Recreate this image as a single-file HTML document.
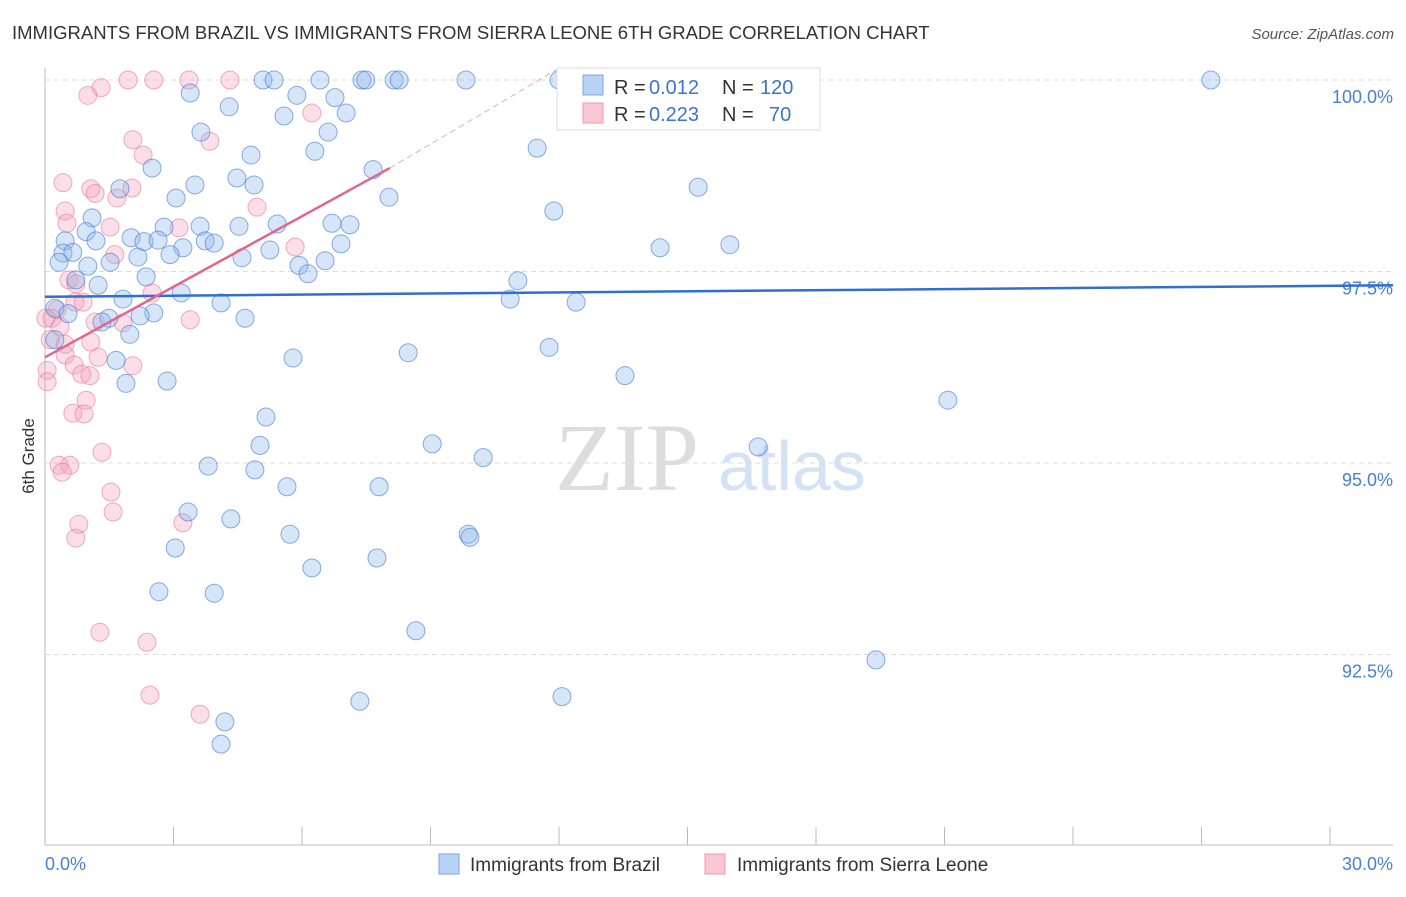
<!DOCTYPE html>
<html><head><meta charset="utf-8"><style>
body{margin:0;background:#fff;font-family:"Liberation Sans",sans-serif}
svg text{font-family:"Liberation Sans",sans-serif}
</style></head><body>
<svg id="c" width="1406" height="892">
<text x="12" y="39" font-size="18.5" fill="#333">IMMIGRANTS FROM BRAZIL VS IMMIGRANTS FROM SIERRA LEONE 6TH GRADE CORRELATION CHART</text>
<text x="1394" y="39" font-size="15" fill="#555" text-anchor="end" font-style="italic">Source: ZipAtlas.com</text>
<text x="555" y="490" font-size="96" fill="#ddd" style="font-family:'Liberation Serif',serif">ZIP</text>
<text x="718" y="490" font-size="70" fill="#d4e2f6">atlas</text>
<g id="grid"></g><g id="pts"></g><g id="trend"></g>
<text transform="translate(34,456) rotate(-90)" font-size="17" fill="#333" text-anchor="middle">6th Grade</text>
<text x="45" y="870" font-size="18" fill="#4a7fd6">0.0%</text>
<text x="1393" y="870" font-size="18" fill="#4a7fd6" text-anchor="end">30.0%</text>
<g>
<rect x="557" y="68" width="263" height="62" fill="#fff" stroke="#ddd"/>
<rect x="583" y="75" width="20" height="20" fill="#b9d1f3" stroke="#7aa6e8"/>
<rect x="583" y="103" width="20" height="20" fill="#f9c7d4" stroke="#ee9ab0"/>
<text x="614" y="94" font-size="20" fill="#333">R =</text>
<text x="649" y="94" font-size="20" fill="#3b73d1">0.012</text>
<text x="722" y="94" font-size="20" fill="#333">N =</text>
<text x="760" y="94" font-size="20" fill="#3b73d1">120</text>
<text x="614" y="121" font-size="20" fill="#333">R =</text>
<text x="649" y="121" font-size="20" fill="#3b73d1">0.223</text>
<text x="722" y="121" font-size="20" fill="#333">N =</text>
<text x="769" y="121" font-size="20" fill="#3b73d1">70</text>
</g>
<g>
<rect x="439" y="854" width="20" height="20" fill="#b9d1f3" stroke="#7aa6e8"/>
<text x="470" y="871" font-size="19" fill="#333">Immigrants from Brazil</text>
<rect x="705" y="854" width="20" height="20" fill="#f9c7d4" stroke="#ee9ab0"/>
<text x="737" y="871" font-size="19" fill="#333">Immigrants from Sierra Leone</text>
</g>
</svg>
<script>
const yTicks=[100,97.5,95,92.5];
const yTickLabels=["100.0%","97.5%","95.0%","92.5%"];
const xTicks=[0,3,6,9,12,15,18,21,24,27,30];
const brazilX=[3.39,4.30,5.09,5.35,5.88,6.42,6.77,7.03,7.40,7.49,8.15,8.27,9.83,12.0,27.22,16.27,5.58,3.64,6.61,6.30,4.81,11.49,2.50,7.66,4.48,4.88,3.50,1.75,3.06,8.03,15.25,11.88,1.10,2.78,3.62,4.53,5.42,6.70,7.12,0.96,0.47,1.19,2.01,2.31,2.64,3.74,3.95,6.91,3.22,14.36,15.99,0.42,0.65,0.33,1.52,2.17,2.92,4.60,5.25,5.93,6.54,1.00,6.14,2.36,0.72,1.24,3.18,11.04,1.82,4.11,10.86,12.40,0.23,0.54,2.54,2.22,1.49,1.33,4.67,1.98,1.66,0.23,5.79,8.48,11.77,1.89,2.85,13.54,21.08,5.16,5.02,9.04,10.23,16.65,3.81,4.90,5.65,7.80,3.34,4.34,5.72,9.88,9.92,3.04,7.75,6.23,2.66,3.95,8.66,19.40,7.35,12.07,4.20,4.11];
const brazilY=[99.83,99.65,100,100,99.80,100,99.77,99.57,100,100,100,100,100,100,100,100,99.53,99.32,99.32,99.07,99.02,99.11,98.85,98.83,98.72,98.63,98.63,98.58,98.46,98.47,98.60,98.29,98.20,98.08,98.09,98.09,98.12,98.13,98.11,98.02,97.90,97.90,97.94,97.89,97.91,97.90,97.87,97.86,97.81,97.81,97.85,97.74,97.75,97.62,97.62,97.69,97.72,97.68,97.78,97.58,97.64,97.57,97.47,97.43,97.39,97.32,97.22,97.38,97.14,97.09,97.14,97.10,97.02,96.95,96.96,96.92,96.89,96.84,96.89,96.68,96.34,96.61,96.37,96.44,96.51,96.04,96.07,96.14,95.82,95.60,95.23,95.25,95.07,95.21,94.96,94.91,94.69,94.69,94.36,94.27,94.07,94.07,94.03,93.89,93.76,93.63,93.32,93.30,92.81,92.43,91.89,91.95,91.62,91.33];
const sierraX=[1.31,1.00,1.94,2.54,3.36,4.32,6.23,2.05,2.29,3.85,0.42,1.07,1.17,2.03,1.68,4.95,0.47,0.51,1.52,3.13,5.84,1.63,0.56,0.72,0.89,2.50,0.70,0.28,3.39,0.16,0.35,1.17,1.82,0.02,0.12,0.47,1.07,0.47,1.24,2.05,0.68,0.86,1.05,0.05,0.05,0.96,0.65,0.91,1.33,0.33,0.58,0.40,1.54,1.59,0.79,0.72,3.22,1.28,2.38,2.45,3.62];
const sierraY=[99.90,99.80,100,100,100,100,99.57,99.22,99.02,99.20,98.66,98.58,98.52,98.59,98.46,98.34,98.29,98.13,98.08,98.07,97.82,97.72,97.39,97.34,97.10,97.22,97.10,97.00,96.87,96.89,96.78,96.84,96.83,96.89,96.61,96.55,96.58,96.41,96.38,96.27,96.28,96.16,96.14,96.21,96.06,95.82,95.65,95.64,95.14,94.97,94.97,94.88,94.62,94.36,94.20,94.02,94.22,92.79,92.66,91.97,91.72];
const brazilTrendX=[0,31.47], brazilTrendY=[97.17,97.32];
const sierraTrendX=[0,8.05,12.02], sierraTrendY=[96.38,98.85,100.16];

const NS="http://www.w3.org/2000/svg";
const X=v=>45+v*(1285/30);
const Y=v=>80+(100-v)*76.6;
function mk(tag,attrs,parent){const e=document.createElementNS(NS,tag);for(const k in attrs)e.setAttribute(k,attrs[k]);parent.appendChild(e);return e;}
const grid=document.getElementById('grid');
yTicks.forEach((t,i)=>{
  const l=mk('line',{x1:45,x2:1393,y1:Y(t),y2:Y(t),stroke:'#ddd','stroke-dasharray':'5,4'},grid);
  
  
  const tx=mk('text',{x:1393,y:Y(t)+23,'font-size':18,fill:'#4a7fd6','text-anchor':'end'},grid);
  tx.textContent=yTickLabels[i];
  
  
});
const ax=mk('line',{x1:45,x2:45,y1:68,y2:845,stroke:'#bbb'},grid);


const bx=mk('line',{x1:45,x2:1393,y1:845,y2:845,stroke:'#bbb'},grid);


xTicks.forEach(t=>{
  const l=mk('line',{x1:X(t),x2:X(t),y1:827,y2:845,stroke:'#bbb'},grid);
  
  
});
const pts=document.getElementById('pts');
sierraX.forEach((v,i)=>{
  const c=mk('circle',{cx:X(v),cy:Y(sierraY[i]),r:9,fill:'rgba(244,160,185,0.35)',stroke:'rgba(232,120,150,0.6)','stroke-width':1},pts);
  
  
});
brazilX.forEach((v,i)=>{
  const c=mk('circle',{cx:X(v),cy:Y(brazilY[i]),r:9,fill:'rgba(140,180,235,0.35)',stroke:'rgba(60,120,210,0.6)','stroke-width':1},pts);
  
  
});
const tr=document.getElementById('trend');
const b=mk('line',{x1:X(brazilTrendX[0]),y1:Y(brazilTrendY[0]),x2:X(brazilTrendX[1]),y2:Y(brazilTrendY[1]),stroke:'#2f6fd0','stroke-width':2.5},tr);


const s=mk('line',{x1:X(sierraTrendX[0]),y1:Y(sierraTrendY[0]),x2:X(sierraTrendX[1]),y2:Y(sierraTrendY[1]),stroke:'#e06690','stroke-width':2.5},tr);


const sd=mk('line',{x1:X(sierraTrendX[1]),y1:Y(sierraTrendY[1]),x2:X(sierraTrendX[2]),y2:Y(sierraTrendY[2]),stroke:'#eeaabb','stroke-width':1,'stroke-dasharray':'6,4'},tr);


</script>
</body></html>
